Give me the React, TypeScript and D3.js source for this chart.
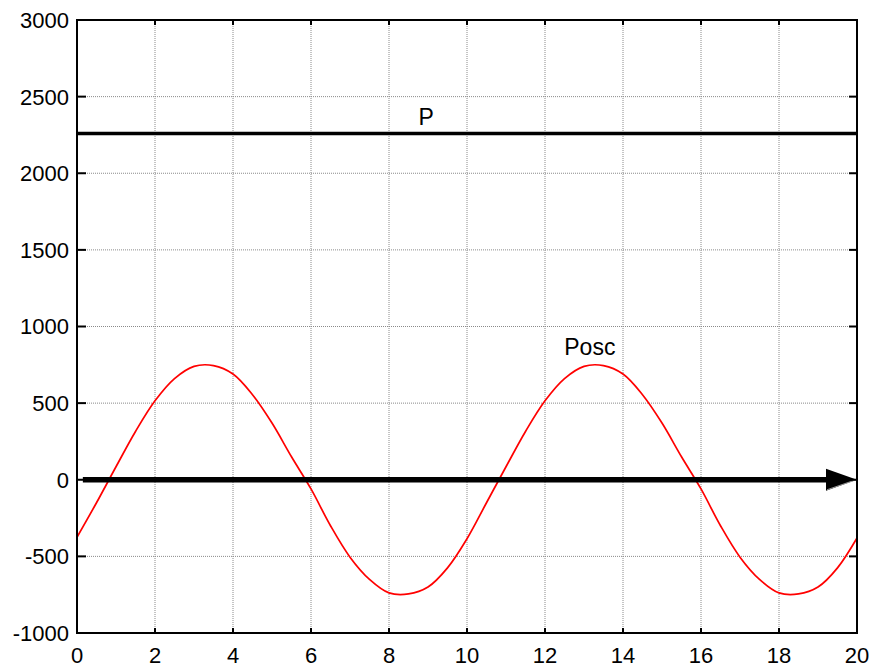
import React from 'react';
import * as d3 from 'd3';

// time axis (s) and the two powers
const timeValues = [
  0, 0.5, 1, 1.5, 2, 2.5, 3, 3.5, 4, 4.5, 5, 5.5, 6, 6.5, 7, 7.5, 8, 8.5, 9, 9.5,
  10, 10.5, 11, 11.5, 12, 12.5, 13, 13.5, 14, 14.5, 15, 15.5, 16, 16.5, 17, 17.5,
  18, 18.5, 19, 19.5, 20,
];
const poscValues = [
  -375, -150, 85, 315, 515, 660, 740, 745, 690, 555, 370, 150, -60, -300, -505,
  -650, -738, -745, -700, -575, -385, -150, 85, 315, 515, 660, 740, 745, 690, 555,
  370, 150, -60, -300, -505, -650, -738, -745, -700, -575, -380,
];
const pLevel = 2260;
const pSpan = [0, 20];
const arrowSpan = [0.15, 20];
const arrowLevel = 0;

const xTicks = [0, 2, 4, 6, 8, 10, 12, 14, 16, 18, 20];
const yTicks = [-1000, -500, 0, 500, 1000, 1500, 2000, 2500, 3000];

const labels = [
  { text: 'P', x: 8.95, y: 2318 },
  { text: 'Posc', x: 13.15, y: 812 },
];

const W = 873;
const H = 668;
const margin = { top: 20, left: 77, right: 16, bottom: 35 };
const font = '"Liberation Sans", Arial, sans-serif';

export default function App() {
  const x = d3.scaleLinear().domain([0, 20]).range([margin.left, W - margin.right]);
  const y = d3.scaleLinear().domain([-1000, 3000]).range([H - margin.bottom, margin.top]);
  const [x0, x1] = x.range();
  const [y0, y1] = y.range();

  const line = d3
    .line<number>()
    .x((_, i) => x(timeValues[i]))
    .y((d) => y(d))
    .curve(d3.curveCatmullRom);

  const ay = y(arrowLevel);
  const tip = x(arrowSpan[1]);
  const headLen = 31;
  const headHalf = 11;

  return (
    <svg
      width={W}
      height={H}
      style={{ position: 'absolute', left: 0, top: 0, background: '#fff' }}
      fontFamily={font}
    >
      <rect x={0} y={0} width={W} height={H} fill="#fff" />
      {/* grid */}
      <g stroke="#8a8a8a" strokeWidth={1} strokeDasharray="1 1">
        {xTicks.slice(1, -1).map((t) => (
          <line key={'gx' + t} x1={x(t)} x2={x(t)} y1={y1} y2={y0} />
        ))}
        {yTicks.slice(1, -1).map((t) => (
          <line key={'gy' + t} x1={x0} x2={x1} y1={y(t)} y2={y(t)} />
        ))}
      </g>

      {/* Posc */}
      <path d={line(poscValues) || ''} fill="none" stroke="#ff0000" strokeWidth={1.7} />

      {/* P */}
      <line x1={x(pSpan[0])} x2={x(pSpan[1])} y1={y(pLevel)} y2={y(pLevel)} stroke="#000" strokeWidth={3.5} />

      {/* arrow */}
      <line x1={x(arrowSpan[0])} x2={tip - headLen + 2} y1={ay} y2={ay} stroke="#000" strokeWidth={5.5} />
      <polygon
        points={`${tip},${ay} ${tip - headLen},${ay - headHalf} ${tip - headLen},${ay + headHalf}`}
        fill="#000"
      />
      <line x1={tip - headLen + 1} y1={ay + headHalf - 1} x2={tip - 1} y2={ay} stroke="#bbb" strokeWidth={0.8} />

      {/* box and ticks */}
      <rect x={x0} y={y1} width={x1 - x0} height={y0 - y1} fill="none" stroke="#000" strokeWidth={2} />
      <g stroke="#000" strokeWidth={2}>
        {xTicks.map((t) => (
          <g key={'tx' + t}>
            <line x1={x(t)} x2={x(t)} y1={y0} y2={y0 - 5} />
            <line x1={x(t)} x2={x(t)} y1={y1} y2={y1 + 5} />
          </g>
        ))}
        {yTicks.map((t) => (
          <g key={'ty' + t}>
            <line x1={x0} x2={x0 + 9} y1={y(t)} y2={y(t)} />
            <line x1={x1} x2={x1 - 8} y1={y(t)} y2={y(t)} />
          </g>
        ))}
      </g>

      {/* tick labels */}
      <g fontSize={22} fill="#000">
        {xTicks.map((t) => (
          <text key={'lx' + t} x={x(t)} y={H - 5} textAnchor="middle">
            {t}
          </text>
        ))}
        {yTicks.map((t) => (
          <text key={'ly' + t} x={x0 - 8} y={y(t)} textAnchor="end" dy="0.36em">
            {t}
          </text>
        ))}
      </g>

      {labels.map((l) => (
        <text key={l.text} x={x(l.x)} y={y(l.y)} fontSize={23} textAnchor="middle" fill="#000">
          {l.text}
        </text>
      ))}
    </svg>
  );
}
